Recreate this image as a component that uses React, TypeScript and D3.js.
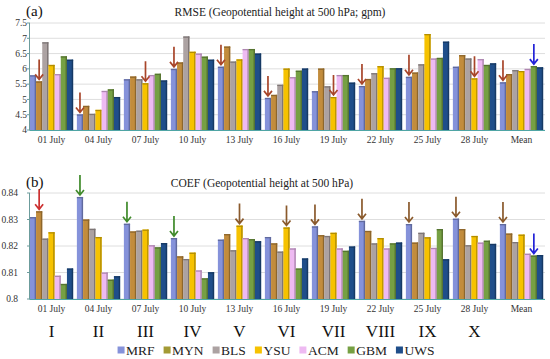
import React, { useEffect, useRef } from "react";
import * as d3 from "d3";

const groups = ["01 July", "04 July", "07 July", "10 July", "13 July", "16 July", "19 July", "22 July", "25 July", "28 July", "Mean"];
const models = ["MRF", "MYN", "BLS", "YSU", "ACM", "GBM", "UWS"];
const romans = ["I", "II", "III", "IV", "V", "VI", "VII", "VIII", "IX", "X"];

// RMSE (gpm)
const rmseMRF = [5.79, 4.51, 5.66, 6.0, 6.07, 5.05, 5.27, 5.44, 5.74, 6.07, 5.56];
const rmseMYN = [5.59, 4.79, 5.75, 6.21, 6.73, 5.15, 6.01, 5.67, 5.88, 6.45, 5.83];
const rmseBLS = [6.87, 4.53, 5.66, 7.06, 6.24, 5.48, 5.43, 5.86, 6.15, 6.34, 5.96];
const rmseYSU = [6.13, 4.66, 5.53, 6.56, 6.31, 6.01, 5.08, 6.09, 7.14, 5.69, 5.93];
const rmseACM = [5.83, 5.28, 5.8, 6.5, 6.65, 5.73, 5.8, 5.71, 6.34, 6.32, 6.0];
const rmseGBM = [6.41, 5.33, 5.84, 6.4, 6.65, 5.94, 5.8, 6.02, 6.36, 6.13, 6.09];
const rmseUWS = [6.3, 5.08, 5.62, 6.3, 6.5, 6.01, 5.55, 6.02, 6.89, 6.18, 6.05];

// COEF
const coefMRF = [0.8309, 0.8385, 0.8284, 0.823, 0.8224, 0.8234, 0.8274, 0.8295, 0.8283, 0.8303, 0.8283];
const coefMYN = [0.8331, 0.83, 0.8255, 0.8161, 0.8245, 0.821, 0.8241, 0.8257, 0.8213, 0.8264, 0.8247];
const coefBLS = [0.8228, 0.8265, 0.8258, 0.8151, 0.8184, 0.8179, 0.8238, 0.821, 0.825, 0.8203, 0.8215];
const coefYSU = [0.8252, 0.8234, 0.8262, 0.8175, 0.8277, 0.827, 0.825, 0.823, 0.8233, 0.8238, 0.8243];
const coefACM = [0.8088, 0.81, 0.8203, 0.8108, 0.823, 0.8191, 0.8191, 0.8191, 0.8193, 0.8213, 0.8171];
const coefGBM = [0.8057, 0.8073, 0.8195, 0.8078, 0.8226, 0.8115, 0.8182, 0.821, 0.8264, 0.822, 0.8164];
const coefUWS = [0.8115, 0.8086, 0.8211, 0.8101, 0.8218, 0.8153, 0.8198, 0.8213, 0.815, 0.8208, 0.8166];

const rmseTicks = [4, 4.5, 5, 5.5, 6, 6.5, 7, 7.5];
const coefTicks = [0.8, 0.81, 0.82, 0.83, 0.84];

// arrows: [group index, model, colour]
const rmseArrows = [
  [0, "MYN", "#a8452a"], [1, "MRF", "#a8452a"], [2, "YSU", "#a8452a"], [3, "MRF", "#a8452a"],
  [4, "MRF", "#a8452a"], [5, "MRF", "#a8452a"], [6, "YSU", "#a8452a"], [7, "MRF", "#a8452a"],
  [8, "MRF", "#a8452a"], [9, "YSU", "#a8452a"], [10, "MRF", "#a8452a"], [10, "GBM", "#2424d8"],
];
const coefArrows = [
  [0, "MYN", "#cc3030"], [1, "MRF", "#3f8a2a"], [2, "MRF", "#3f8a2a"], [3, "MRF", "#3f8a2a"],
  [4, "YSU", "#8a5a2c"], [5, "YSU", "#8a5a2c"], [6, "MRF", "#8a5a2c"], [7, "MRF", "#8a5a2c"],
  [8, "MRF", "#8a5a2c"], [9, "MRF", "#8a5a2c"], [10, "MRF", "#8a5a2c"], [10, "GBM", "#2424d8"],
];

const colors = ["#8592da", "#c28c3c", "#aca2a2", "#f6c200", "#eebaf2", "#76a043", "#1f4e8a"];
const legendColors = ["#8592da", "#a39a35", "#aca2a2", "#f6c200", "#eebaf2", "#76a043", "#1f4e8a"];

const W = 550;
const H = 359;
const FONT = "'Liberation Serif', 'DejaVu Serif', serif";

const App = () => {
  const svgRef = useRef(null);

  useEffect(() => {
    const svg = d3.select(svgRef.current);
    svg.selectAll("*").remove();

    const x0 = d3.scaleBand().domain(groups).range([28, 545]).paddingInner(0.08).paddingOuter(0.04);
    const x1 = d3.scaleBand().domain(models).range([0, x0.bandwidth()]).padding(0);

    const drawPanel = (opts) => {
      const { series, y, ticks, fmt, arrows, label, title, titleX, top, labelRight } = opts;
      const g = svg.append("g");
      const [yBottom, yTop] = y.range();

      // grid
      g.selectAll(".grid")
        .data(ticks)
        .enter()
        .append("line")
        .attr("x1", 30)
        .attr("x2", 545)
        .attr("y1", (d) => y(d))
        .attr("y2", (d) => y(d))
        .attr("stroke", "#dedede")
        .attr("stroke-width", 1);

      // bars
      groups.forEach((grp, gi) => {
        const gg = g.append("g").attr("transform", `translate(${x0(grp)},0)`);
        models.forEach((m, mi) => {
          const v = series[mi][gi];
          const bx = x1(m);
          const bw = x1.bandwidth();
          const c = d3.color(colors[mi]);
          gg.append("rect")
            .attr("x", bx)
            .attr("y", y(v))
            .attr("width", bw)
            .attr("height", yBottom - y(v))
            .attr("fill", colors[mi]);
          gg.append("rect")
            .attr("x", bx + bw - 1.4)
            .attr("y", y(v))
            .attr("width", 1.4)
            .attr("height", yBottom - y(v))
            .attr("fill", c.darker(0.9).toString());
          gg.append("rect")
            .attr("x", bx)
            .attr("y", y(v))
            .attr("width", bw)
            .attr("height", 1.3)
            .attr("fill", c.darker(0.9).toString());
        });
      });

      // axes
      g.append("line")
        .attr("x1", 29.5).attr("x2", 29.5)
        .attr("y1", yTop).attr("y2", yBottom)
        .attr("stroke", "#6c9c9c").attr("stroke-width", 1);
      g.append("line")
        .attr("x1", 29.5).attr("x2", 545)
        .attr("y1", yBottom + 0.5).attr("y2", yBottom + 0.5)
        .attr("stroke", "#4fa5a5").attr("stroke-width", 1.2);
      g.selectAll(".tick")
        .data(ticks)
        .enter()
        .append("line")
        .attr("x1", 27).attr("x2", 30)
        .attr("y1", (d) => y(d)).attr("y2", (d) => y(d))
        .attr("stroke", "#6c9c9c");
      g.selectAll(".ytl")
        .data(ticks)
        .enter()
        .append("text")
        .attr("x", labelRight)
        .attr("y", (d) => y(d))
        .attr("dy", "0.35em")
        .attr("text-anchor", "end")
        .attr("font-family", FONT)
        .attr("font-size", 9.5)
        .attr("fill", "#333")
        .text(fmt);

      // x labels
      g.selectAll(".xl")
        .data(groups)
        .enter()
        .append("text")
        .attr("x", (d) => x0(d) + x0.bandwidth() / 2)
        .attr("y", yBottom + 13)
        .attr("text-anchor", "middle")
        .attr("font-family", FONT)
        .attr("font-size", 9.5)
        .attr("fill", "#333")
        .text((d) => d);

      // arrows
      arrows.forEach(([gi, m, col]) => {
        const mi = models.indexOf(m);
        const cx = x0(groups[gi]) + x1(m) + x1.bandwidth() / 2;
        const tip = y(series[mi][gi]) - 2;
        const len = 20;
        g.append("path")
          .attr("d", `M${cx},${tip - len}L${cx},${tip}M${cx - 4},${tip - 5}L${cx},${tip}L${cx + 4},${tip - 5}`)
          .attr("fill", "none")
          .attr("stroke", col)
          .attr("stroke-width", 1.7);
      });

      // labels
      g.append("text")
        .attr("x", 26)
        .attr("y", top)
        .attr("font-family", FONT)
        .attr("font-size", 15)
        .attr("fill", "#111")
        .text(label);
      g.append("text")
        .attr("x", titleX)
        .attr("y", top)
        .attr("text-anchor", "middle")
        .attr("font-family", FONT)
        .attr("font-size", 11.5)
        .attr("fill", "#222")
        .text(title);
    };

    drawPanel({
      series: [rmseMRF, rmseMYN, rmseBLS, rmseYSU, rmseACM, rmseGBM, rmseUWS],
      y: d3.scaleLinear().domain([4, 7.5]).range([130, 23]),
      ticks: rmseTicks,
      fmt: (d) => String(d),
      arrows: rmseArrows,
      label: "(a)",
      title: "RMSE (Geopotential height at 500 hPa; gpm)",
      titleX: 280,
      top: 16,
      labelRight: 27,
    });

    drawPanel({
      series: [coefMRF, coefMYN, coefBLS, coefYSU, coefACM, coefGBM, coefUWS],
      y: d3.scaleLinear().domain([0.8, 0.84]).range([299, 193]),
      ticks: coefTicks,
      fmt: (d) => String(+d.toFixed(2)),
      arrows: coefArrows,
      label: "(b)",
      title: "COEF (Geopotential height at 500 hPa)",
      titleX: 262,
      top: 187,
      labelRight: 18,
    });

    // roman numerals
    svg.selectAll(".roman")
      .data(romans)
      .enter()
      .append("text")
      .attr("x", (d, i) => x0(groups[i]) + x0.bandwidth() / 2)
      .attr("y", 337)
      .attr("text-anchor", "middle")
      .attr("font-family", FONT)
      .attr("font-size", 17)
      .attr("fill", "#111")
      .text((d) => d);

    // legend
    const leg = svg.append("g");
    let lx = 0;
    models.forEach((m, i) => {
      const item = leg.append("g").attr("transform", `translate(${lx},0)`);
      item.append("rect").attr("x", 0).attr("y", -3.5).attr("width", 7).attr("height", 7).attr("fill", legendColors[i]);
      const t = item.append("text")
        .attr("x", 8.5)
        .attr("y", 0)
        .attr("dy", "0.35em")
        .attr("font-family", FONT)
        .attr("font-size", 13.5)
        .attr("fill", "#222")
        .text(m);
      const tw = t.node().getComputedTextLength();
      lx += 8.5 + tw + 9;
    });
    const total = lx - 9;
    leg.attr("transform", `translate(${276 - total / 2},350)`);
  }, []);

  return (
    <svg
      ref={svgRef}
      width={W}
      height={H}
      style={{ position: "absolute", left: 0, top: 0, background: "#fff" }}
    ></svg>
  );
};

export default App;
